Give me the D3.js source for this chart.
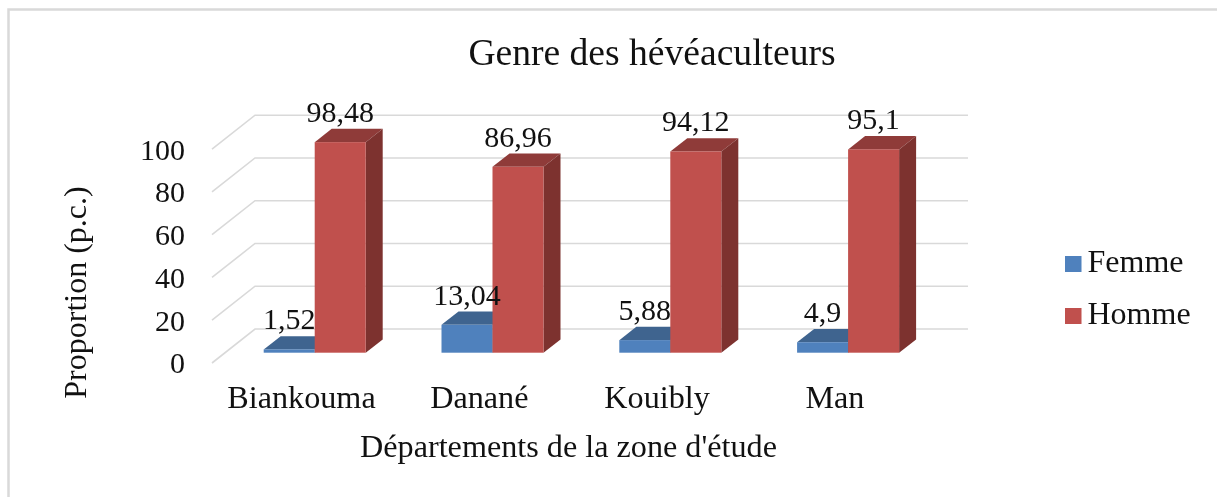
<!DOCTYPE html>
<html lang="fr">
<head>
    <meta charset="UTF-8">
    <title>Genre des hévéaculteurs</title>
    <style>
        body {
            margin: 0;
            padding: 0;
            background: #fff;
            overflow: hidden;
        }
        svg {
            display: block;
            filter: blur(0.4px);
        }
        text {
            font-family: "Liberation Serif", serif;
            fill: #111;
        }
    </style>
</head>
<body>
    <div id="chart"></div>
    <script src="https://d3js.org/d3.v7.min.js"></script>
    <script>
// Valeurs
const departements = ["Biankouma", "Danané", "Kouibly", "Man"];
const seriesNames = ["Femme", "Homme"];
const femme = [1.52, 13.04, 5.88, 4.9];
const homme = [98.48, 86.96, 94.12, 95.1];
const yTicks = [0, 20, 40, 60, 80, 100];

const width = 1217;
const height = 497;

const colors = {
  Femme: { front: "#4f81bd", top: "#3f648f", side: "#345274" },
  Homme: { front: "#c0504d", top: "#8f3b39", side: "#7d322f" }
};

// Profondeur des barres et du plancher
const barDepth = { x: 17, y: -13.3 };
const wallBack = { x: 43, y: -23.7 };
const wallFront = { x: 0, y: 10.3 };

const svg = d3.select("#chart")
  .append("svg")
  .attr("width", width)
  .attr("height", height);

// Cadre (seulement haut et gauche visibles)
svg.append("path")
  .attr("d", d3.line()([[8.5, height], [8.5, 9.5], [width, 9.5]]))
  .attr("fill", "none")
  .attr("stroke", "#d9d9d9")
  .attr("stroke-width", 2.5);

const y = d3.scaleLinear().domain([0, 100]).range([352.7, 138.9]);

const x0 = d3.scaleBand()
  .domain(departements)
  .range([263.7, 899.1])
  .paddingInner(0.4263)
  .paddingOuter(0);

const x1 = d3.scaleBand()
  .domain(seriesNames)
  .range([0, x0.bandwidth()]);

// Grille
const grid = svg.append("g");
const floorLeft = 212;
const floorRight = 968;
yTicks.forEach(t => {
  grid.append("path")
    .attr("d", d3.line()([
      [floorLeft, y(t) + wallFront.y],
      [floorLeft + wallBack.x, y(t) + wallBack.y],
      [floorRight, y(t) + wallBack.y]
    ]))
    .attr("fill", "none")
    .attr("stroke", "#d9d9d9")
    .attr("stroke-width", 1.6);
});

// Table construite à partir des séries
const rows = [];
departements.forEach((d, i) => {
  rows.push({ dep: d, serie: "Femme", value: femme[i] });
  rows.push({ dep: d, serie: "Homme", value: homme[i] });
});

const bars = svg.append("g")
  .selectAll("g")
  .data(rows)
  .enter().append("g");

bars.append("path")
  .attr("fill", d => colors[d.serie].top)
  .attr("d", d => {
    const l = x0(d.dep) + x1(d.serie), r = l + x1.bandwidth(), t = y(d.value);
    return d3.line()([[l, t], [r, t], [r + barDepth.x, t + barDepth.y], [l + barDepth.x, t + barDepth.y]]) + "Z";
  });

bars.append("path")
  .attr("fill", d => colors[d.serie].side)
  .attr("d", d => {
    const r = x0(d.dep) + x1(d.serie) + x1.bandwidth(), t = y(d.value), b = y(0);
    return d3.line()([[r, t], [r + barDepth.x, t + barDepth.y], [r + barDepth.x, b + barDepth.y], [r, b]]) + "Z";
  });

bars.append("rect")
  .attr("x", d => x0(d.dep) + x1(d.serie))
  .attr("y", d => y(d.value))
  .attr("width", x1.bandwidth())
  .attr("height", d => y(0) - y(d.value))
  .attr("fill", d => colors[d.serie].front);

// Etiquettes de valeur
svg.append("g")
  .selectAll("text")
  .data(rows)
  .enter().append("text")
  .attr("x", d => x0(d.dep) + x1(d.serie) + x1.bandwidth() / 2)
  .attr("y", d => y(d.value) - 20)
  .attr("text-anchor", "middle")
  .attr("font-size", 30)
  .text(d => String(d.value).replace(".", ","));

// Axes
const yAxis = svg.append("g")
  .attr("transform", "translate(185,20.7)")
  .call(d3.axisLeft(y).tickValues(yTicks).tickSize(0).tickPadding(0).offset(0));
yAxis.select(".domain").remove();
yAxis.selectAll("text").attr("dy", 0).attr("font-size", 30);

const xAxis = svg.append("g")
  .attr("transform", "translate(-13.2,408)")
  .call(d3.axisBottom(x0).tickSize(0).tickPadding(0).offset(0));
xAxis.select(".domain").remove();
xAxis.selectAll("text").attr("dy", 0).attr("font-size", 32.2);

// Titres
svg.append("text")
  .attr("x", 652)
  .attr("y", 65)
  .attr("text-anchor", "middle")
  .attr("font-size", 37.6)
  .text("Genre des hévéaculteurs");

svg.append("text")
  .attr("x", 568.5)
  .attr("y", 457)
  .attr("text-anchor", "middle")
  .attr("font-size", 32.2)
  .text("Départements de la zone d'étude");

svg.append("text")
  .attr("transform", "translate(86,292.5) rotate(-90)")
  .attr("text-anchor", "middle")
  .attr("font-size", 32)
  .text("Proportion (p.c.)");

// Légende
const legend = svg.append("g");
const legendY = d3.scalePoint().domain(seriesNames).range([272, 324]);

legend.selectAll("rect")
  .data(seriesNames)
  .enter().append("rect")
  .attr("x", 1065)
  .attr("y", d => legendY(d) - 16)
  .attr("width", 16.5)
  .attr("height", 16)
  .attr("fill", d => colors[d].front);

legend.selectAll("text")
  .data(seriesNames)
  .enter().append("text")
  .attr("x", 1087.5)
  .attr("y", d => legendY(d))
  .attr("font-size", 32)
  .text(d => d);
    </script>
</body>
</html>
